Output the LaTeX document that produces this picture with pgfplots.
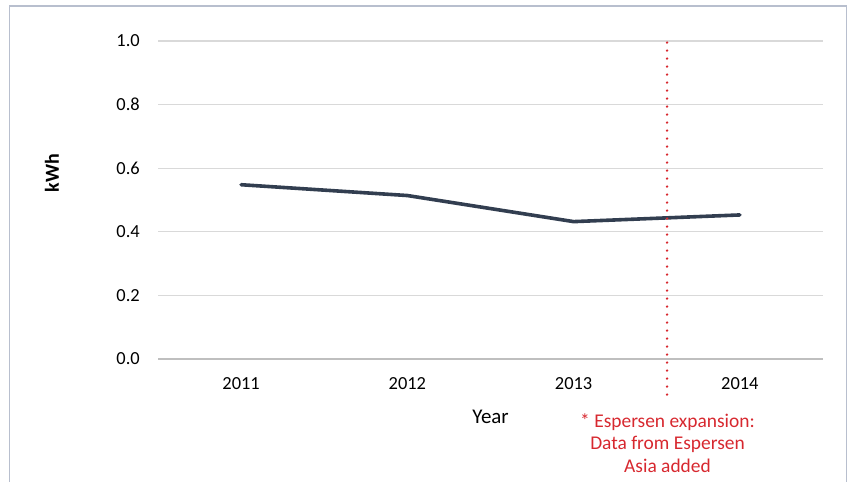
\documentclass[border=0pt]{standalone}
\usepackage{pgfplots}
\pgfplotsset{compat=1.18}
\usepackage{fontspec}
\setmainfont{Carlito}

\definecolor{serieslinecolor}{HTML}{323E50}
\definecolor{gridgray}{HTML}{D9D9D9}
\definecolor{axisgray}{HTML}{BFBFBF}
\definecolor{framegray}{HTML}{B8BFCE}
\definecolor{notered}{HTML}{D7282F}

\begin{document}
\begin{tikzpicture}[x=1bp,y=1bp]
\useasboundingbox (0,0) rectangle (848,482);
% chart frame
\draw[framegray, line width=1.3bp] (9.3,-20) -- (9.3,476) -- (846.7,476) -- (846.7,-20);

\begin{axis}[
  at={(158bp,123bp)}, anchor=south west,
  scale only axis, width=665bp, height=318bp,
  xmin=-0.5, xmax=3.5, ymin=0, ymax=1,
  axis x line*=bottom, axis y line*=left,
  y axis line style={draw=none},
  x axis line style={draw=axisgray, line width=1.3bp},
  xtick={0,1,2,3},
  xticklabels={2011,2012,2013,2014},
  ytick={0,0.2,0.4,0.6,0.8,1.0},
  major tick length=0pt,
  ymajorgrids,
  major grid style={gridgray, line width=1.3bp},
  /pgf/number format/assume math mode=true,
  yticklabel={\pgfmathprintnumber[fixed, fixed zerofill, precision=1]{\tick}},
  tick label style={font=\fontsize{18.5}{22}\selectfont, text=black},
  yticklabel style={anchor=east, inner sep=0pt, xshift=-18bp},
  xticklabel style={anchor=north, inner sep=0pt, yshift=-18bp},
  clip=false,
]
\addplot[serieslinecolor, line width=3.6bp, line cap=round, line join=round]
  coordinates {(0,0.548) (1,0.514) (2,0.432) (3,0.453)};
% boundary marking the Espersen expansion
\draw[notered, line width=2.6bp, line cap=round, dash pattern=on 0pt off 8bp]
  (axis cs:2.562,0.995) -- (axis cs:2.562,-0.135);
\end{axis}

\node[font=\bfseries\fontsize{20}{24}\selectfont, rotate=90] at (52,309) {kWh};
\node[font=\fontsize{21}{24}\selectfont] at (490.5,65) {Year};
\node[font=\fontsize{19.5}{22.5}\selectfont, text=notered, align=center] at (667.5,39)
  {* Espersen expansion:\\Data from Espersen\\Asia added};
\end{tikzpicture}
\end{document}
